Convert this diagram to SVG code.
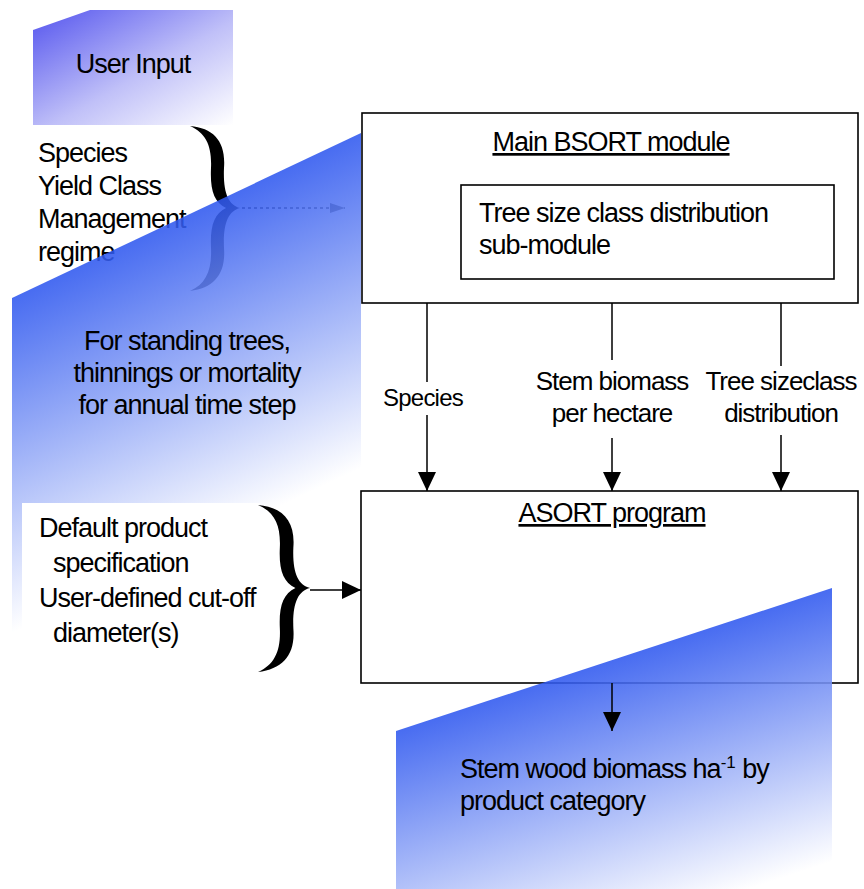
<svg xmlns="http://www.w3.org/2000/svg" xmlns:xlink="http://www.w3.org/1999/xlink" width="864" height="889" viewBox="0 0 864 889">
<style>
.t{font-family:"Liberation Sans",Arial,Helvetica,sans-serif;font-size:27px;letter-spacing:-1px;fill:#000}
.m{text-anchor:middle}
.u{text-decoration:underline}
.box{fill:#fff;stroke:#000;stroke-width:1.6}
.boxn{fill:none;stroke:#000;stroke-width:1.6}
.ln{fill:none;stroke:#000;stroke-width:1.5}
.brace{fill:#000}
.fade{fill-opacity:0.88}
</style>
<defs>
<linearGradient id="gUser" x1="0" y1="0" x2="1" y2="1">
<stop offset="0" stop-color="#5454ee"/>
<stop offset="0.55" stop-color="#c0c0f8"/>
<stop offset="1" stop-color="#ffffff"/>
</linearGradient>
<linearGradient id="gBig" gradientUnits="userSpaceOnUse" x1="12" y1="298" x2="141.5" y2="571.8">
<stop offset="0" stop-color="#2f58ef"/>
<stop offset="1" stop-color="#ffffff"/>
</linearGradient>
<linearGradient id="gBot" gradientUnits="userSpaceOnUse" x1="396" y1="731" x2="477" y2="978">
<stop offset="0" stop-color="#2f58ef"/>
<stop offset="1" stop-color="#ffffff"/>
</linearGradient>
<marker id="ah" markerUnits="userSpaceOnUse" markerWidth="20" markerHeight="20" viewBox="0 0 20 20" refX="19" refY="10" orient="auto">
<path d="M0,1 L19,10 L0,19 Z" fill="#000"/>
</marker>
<marker id="ahs" markerUnits="userSpaceOnUse" markerWidth="16" markerHeight="12" viewBox="0 0 16 12" refX="15" refY="6" orient="auto">
<path d="M0,1 L15,6 L0,11 Z" fill="#333"/>
</marker>
<path id="br" d="M190 126 C214 128 226 142 224 168 C223 192 228 205 240 208 C228 211 223 224 224 248 C226 274 214 288 190 291 C206 284 212 270 211 248 C210 226 214 214 226 208 C214 202 210 190 211 168 C212 146 206 133 190 126 Z"/>
</defs>
<rect width="864" height="889" fill="#fff"/>

<g id="user-input">
<polygon points="33,30 90,10 233,10 233,125 33,125" fill="url(#gUser)"/>
<text class="t m" x="133" y="73">User Input</text>
</g>

<g id="user-params">
<text class="t" x="38" y="162">Species</text>
<text class="t" x="38" y="195">Yield Class</text>
<text class="t" x="38" y="228">Management</text>
<text class="t" x="38" y="261">regime</text>
<use xlink:href="#br" class="brace"/>
</g>

<g id="connectors-top">
<path class="ln" d="M242 208 H345" stroke="#333" stroke-dasharray="3 3" marker-end="url(#ahs)"/>
</g>

<g id="standing-trees">
<polygon class="fade" points="12,298 361,133 361,468 12,633" fill="url(#gBig)"/>
<text class="t m" x="187" y="350">For standing trees,</text>
<text class="t m" x="187" y="382">thinnings or mortality</text>
<text class="t m" x="187" y="414">for annual time step</text>
</g>

<g id="product-spec">
<rect x="22" y="503" width="238" height="175" fill="#fff"/>
<text class="t" x="39" y="537">Default product</text>
<text class="t" x="53" y="572">specification</text>
<text class="t" x="39" y="607">User-defined cut-off</text>
<text class="t" x="53" y="642">diameter(s)</text>
<use xlink:href="#br" class="brace" transform="translate(258 505) scale(1.04 1.012) translate(-190 -126)"/>
</g>

<g id="bsort">
<rect class="box" x="362" y="113" width="496" height="190"/>
<text class="t m u" x="611" y="151">Main BSORT module</text>
</g>

<g id="size-class-sub">
<rect class="box" x="461" y="185" width="373" height="94"/>
<text class="t" x="479" y="222">Tree size class distribution</text>
<text class="t" x="479" y="254">sub-module</text>
</g>

<g id="asort">
<rect class="boxn" x="361" y="491" width="497" height="192"/>
<text class="t m u" x="612" y="522">ASORT program</text>
</g>

<g id="connectors">
<path class="ln" d="M427 303 V382 M427 415 V491" marker-end="url(#ah)"/>
<path class="ln" d="M612 303 V360 M612 438 V491" marker-end="url(#ah)"/>
<path class="ln" d="M781 303 V366 M781 435 V491" marker-end="url(#ah)"/>
<path class="ln" d="M310 590 H361" marker-end="url(#ah)"/>
<text class="t m" x="423" y="406" style="font-size:24px;letter-spacing:-0.8px">Species</text>
<text class="t m" x="612" y="390" style="font-size:26px">Stem biomass</text>
<text class="t m" x="612" y="422" style="font-size:26px">per hectare</text>
<text class="t m" x="781" y="390" style="font-size:26px">Tree sizeclass</text>
<text class="t m" x="781" y="422" style="font-size:26px">distribution</text>
</g>

<g id="output">
<polygon class="fade" points="396,731 832,588 832,889 396,889" fill="url(#gBot)"/>
<path class="ln" d="M612 683 V731" marker-end="url(#ah)"/>
<text class="t" x="460" y="778">Stem wood biomass ha<tspan dy="-10" style="font-size:17px;letter-spacing:0">-1</tspan><tspan dy="10"> by</tspan></text>
<text class="t" x="460" y="810">product category</text>
</g>
</svg>
